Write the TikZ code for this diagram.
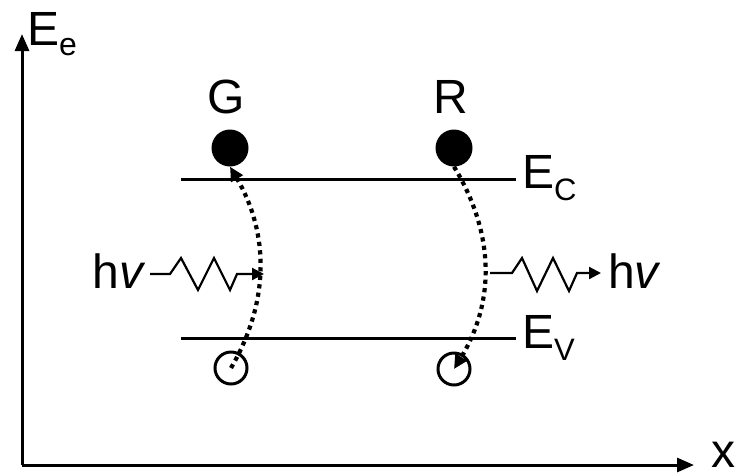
\documentclass[tikz,border=0pt]{standalone}
\usepackage{fontspec}
\setmainfont{Liberation Sans}
\usetikzlibrary{arrows.meta}
\begin{document}
\begin{tikzpicture}[x=1pt,y=-1pt,
  big/.style={font=\fontsize{48}{52}\selectfont, inner sep=0pt},
  axis/.style={line width=3pt, -{Triangle[length=17pt,width=14pt]}},
  level/.style={line width=3pt},
  dotline/.style={line width=4.2pt, dash pattern=on 4.2pt off 4.3pt, -{Triangle[length=14pt,width=13pt]}},
  wave/.style={line width=2.2pt, line join=miter, -{Triangle[length=12pt,width=12pt]}},
  elec/.style={circle, fill=black, minimum size=37pt, inner sep=0pt},
  hole/.style={circle, draw=black, line width=3pt, minimum size=32pt, inner sep=0pt}]
\useasboundingbox (0,0) rectangle (749,475);
% axes
\coordinate (O) at (22,465);
\coordinate (Ytop) at (22,34);
\coordinate (Xend) at (694,465);
\draw[axis] (O) -- (Ytop);
\draw[axis] (O) -- (Xend);
\node[big, anchor=base west] (Ee) at (27,45) {E{\fontsize{32}{32}\selectfont\raisebox{-10pt}{e}}};
\node[big, anchor=base west] (xl) at (711,467) {x};
% levels
\coordinate (C1) at (181,179); \coordinate (C2) at (516,179);
\coordinate (V1) at (181,338); \coordinate (V2) at (516,338);
\draw[level] (C1) -- (C2);
\draw[level] (V1) -- (V2);
\node[big, anchor=base west] (Ec) at (522,188) {E{\fontsize{31}{31}\selectfont\raisebox{-12pt}{C}}};
\node[big, anchor=base west] (Ev) at (522,348) {E{\fontsize{31}{31}\selectfont\raisebox{-12pt}{V}}};
% particles
\node[big] (G) at (226,97) {G};
\node[big] (R) at (451,97) {R};
\node[elec] (Ge) at (230,148) {};
\node[elec] (Re) at (454,148) {};
\node[hole] (Gh) at (231,368) {};
\node[hole] (Rh) at (454,369) {};
% transitions
\draw[dotline] (Gh.center) .. controls (270,301) and (269,233) .. (Ge.south);
\draw[dotline] (Re.south) .. controls (495,234) and (495,302) .. (Rh.center);
% photons
\node[big, anchor=base east] (hvL) at (146,288) {h\textit{v}};
\node[big, anchor=base west] (hvR) at (608,288) {h\textit{v}};
\coordinate (startL) at (150,274);
\coordinate (tipL) at (264,274);
\coordinate (startR) at (490,273);
\coordinate (tipR) at (601,273);
\draw[wave] (startL) -- (170,274) -- (181,258) -- (198,290) -- (214,258) -- (230,290) -- (237,274) -- (tipL);
\draw[wave] (startR) -- (512,273) -- (522,258) -- (537,291) -- (553,258) -- (569,291) -- (577,273) -- (tipR);
\end{tikzpicture}
\end{document}
